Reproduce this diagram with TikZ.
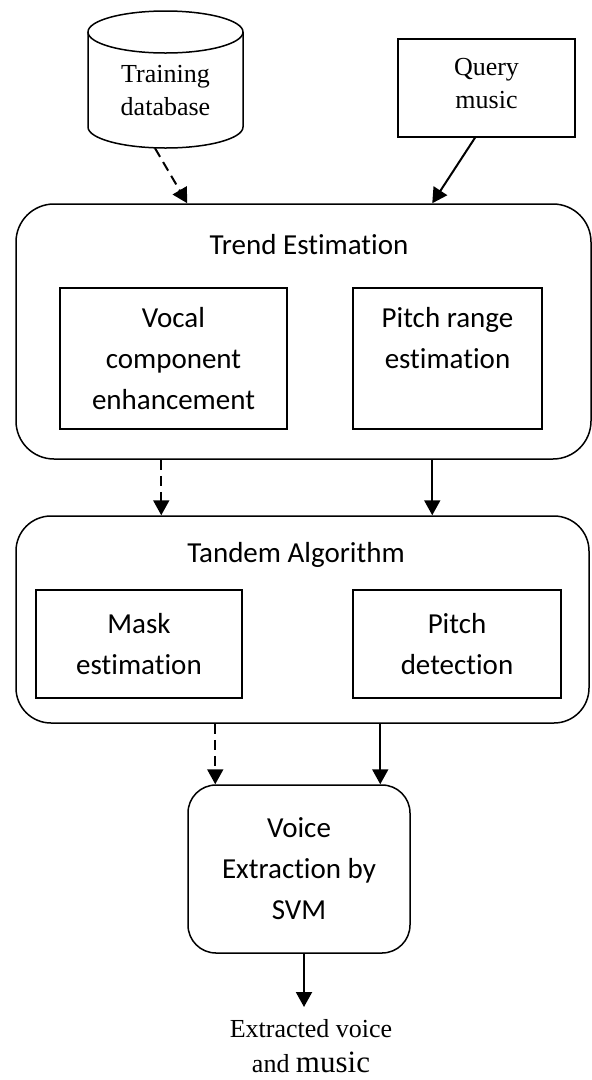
\documentclass[tikz,border=0pt]{standalone}
\usepackage{fontspec}
\setmainfont{Liberation Serif}
\newfontfamily\calibrifont[Ligatures=NoCommon]{Carlito}
\usetikzlibrary{arrows.meta}

\tikzset{
  seriftext/.style={font=\fontsize{26}{33}\selectfont, align=center, inner sep=0pt},
  sanstext/.style={font=\calibrifont\fontsize{29}{41}\selectfont, align=center, inner sep=0pt},
  plainbox/.style={draw, line width=1.5pt, inner sep=0pt},
  bigbox/.style={draw, line width=1.5pt, rounded corners=38pt, inner sep=0pt},
  flow/.style={line width=2pt, -{Triangle[length=15pt,width=16pt]}},
  trainflow/.style={flow, dash pattern=on 10pt off 6pt},
}

\begin{document}
\begin{tikzpicture}[x=1pt,y=1pt]
\useasboundingbox (0,0) rectangle (592,-1080);

% training database drawn as a cylinder
\draw[line width=1.5pt, fill=white] (88,-32) -- (88,-127) arc (180:360:77.5 and 21) -- (243,-32);
\draw[line width=1.5pt] (165.5,-32) ellipse (77.5 and 21);
\node[minimum width=155pt, minimum height=139pt, inner sep=0pt] (db) at (165.5,-78.5) {};
\node[seriftext] (dbtext) at (165.5,-91) {Training\\database};

% query input
\node[plainbox, minimum width=177pt, minimum height=98pt] (query) at (486.5,-88) {};
\node[seriftext] (querytext) at (486.5,-84) {Query\\music};

% trend estimation stage
\node[bigbox, minimum width=575pt, minimum height=255pt] (trend) at (303.5,-331.5) {};
\node[sanstext] (trendtitle) at (309,-245) {Trend Estimation};
\node[plainbox, sanstext, draw, line width=1.5pt, minimum width=227pt, minimum height=141pt] (vocal) at (173.5,-358.5) {Vocal\\component\\enhancement};
\node[plainbox, sanstext, draw, line width=1.5pt, minimum width=189pt, minimum height=141pt] (pitchrange) at (447.5,-358.5) {Pitch range\\estimation\\\phantom{enhancement}};

% tandem algorithm stage
\node[bigbox, rounded corners=35pt, minimum width=573pt, minimum height=207pt] (tandem) at (302.5,-619.5) {};
\node[sanstext] (tandemtitle) at (296,-555) {Tandem Algorithm};
\node[plainbox, sanstext, draw, line width=1.5pt, minimum width=206pt, minimum height=108pt] (mask) at (139,-644) {Mask\\estimation};
\node[plainbox, sanstext, draw, line width=1.5pt, minimum width=208pt, minimum height=108pt] (pitchdet) at (457,-644) {Pitch\\detection};

% voice extraction
\node[bigbox, sanstext, draw, line width=1.5pt, rounded corners=28pt, minimum width=222pt, minimum height=168pt] (svm) at (299,-869) {Voice\\Extraction by\\SVM};

% output
\coordinate (outtip) at (304,-1007);
\node[seriftext, font=\fontsize{26}{35}\selectfont] (out) at (311,-1046) {Extracted voice\\and {\fontsize{31}{35}\selectfont music}};

% connectors
\draw[trainflow] ([xshift=-10.5pt]db.south) -- ([xshift=172pt]trend.north west);
\draw[flow] ([xshift=-11.5pt]query.south) -- ([xshift=417pt]trend.north west);
\draw[trainflow] ([xshift=146pt]trend.south west) -- ([xshift=146pt]tandem.north west);
\draw[flow] ([xshift=417pt]trend.south west) -- ([xshift=417pt]tandem.north west);
\draw[trainflow] ([xshift=200pt]tandem.south west) -- ([xshift=28pt]svm.north west);
\draw[flow] ([xshift=365pt]tandem.south west) -- ([xshift=193pt]svm.north west);
\draw[flow] (svm.south -| outtip) -- (outtip);
\end{tikzpicture}
\end{document}
